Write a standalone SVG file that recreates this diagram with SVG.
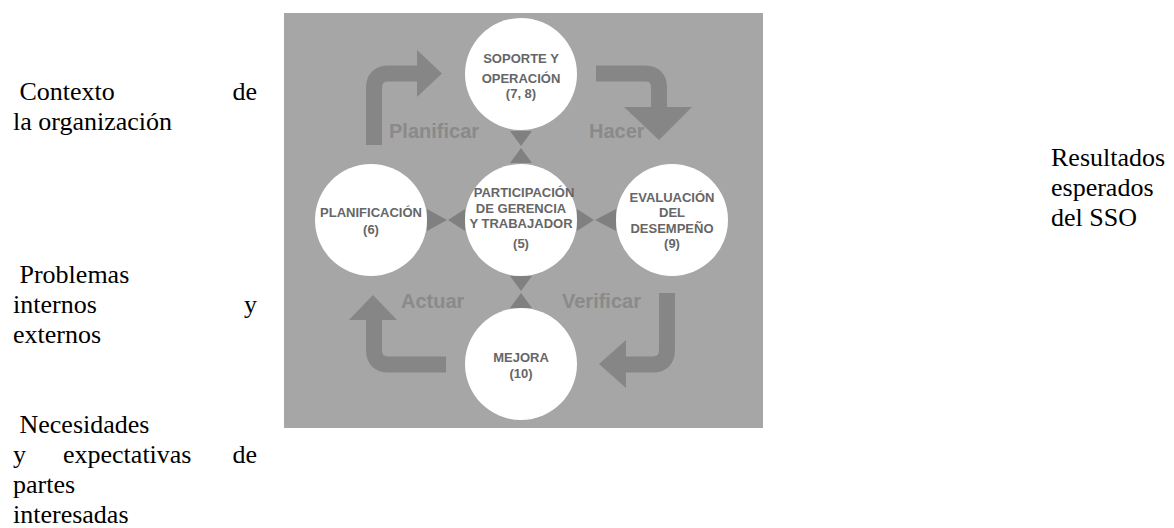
<svg xmlns="http://www.w3.org/2000/svg" width="1174" height="528" viewBox="0 0 1174 528">
<style>
.side{font-family:"Liberation Serif","Times New Roman",serif;font-size:26px;fill:#000}
.node circle{fill:#fff}
.node text{font-family:"Liberation Sans",Arial,sans-serif;font-size:13px;font-weight:bold;fill:#666;text-anchor:middle}
.lbl{font-family:"Liberation Sans",Arial,sans-serif;font-size:20px;font-weight:bold;fill:#8a8a8a}
.bar{fill:none;stroke:#868686;stroke-width:16}
.head{fill:#868686}
.tri{fill:#808080}
</style>
<rect x="0" y="0" width="1174" height="528" fill="#fff"/>
<g id="left-text">
<text class="side" x="13" y="100" xml:space="preserve"> Contexto</text>
<text class="side" x="257" y="100" text-anchor="end">de</text>
<text class="side" x="13" y="130">la organización</text>
<text class="side" x="13" y="283" xml:space="preserve"> Problemas</text>
<text class="side" x="13" y="313">internos</text>
<text class="side" x="257" y="313" text-anchor="end">y</text>
<text class="side" x="13" y="343">externos</text>
<text class="side" x="13" y="433" xml:space="preserve"> Necesidades</text>
<text class="side" x="13" y="463">y</text>
<text class="side" x="63" y="463">expectativas</text>
<text class="side" x="257" y="463" text-anchor="end">de</text>
<text class="side" x="13" y="493">partes</text>
<text class="side" x="13" y="523">interesadas</text>
</g>
<g id="right-text">
<text class="side" x="1051" y="166">Resultados</text>
<text class="side" x="1051" y="196">esperados</text>
<text class="side" x="1051" y="226">del SSO</text>
</g>
<rect id="panel" x="284" y="13" width="479" height="415" fill="#a6a6a6"/>
<g id="connectors">
<path class="bar" d="M374,145 V88 Q374,73.5 389,73.5 H420"/>
<polygon class="head" points="417,50 442,73.5 417,97"/>
<path class="bar" d="M596,73.5 H645 Q659,73.5 659,88 V110"/>
<polygon class="head" points="624,107 692,107 659,140"/>
<path class="bar" d="M667,293 V350 Q667,364.5 652,364.5 H623"/>
<polygon class="head" points="626,340 626,388 599,364"/>
<path class="bar" d="M446,364.5 H389 Q374,364.5 374,350 V317"/>
<polygon class="head" points="349,320 397,320 373,295"/>
<polygon class="tri" points="510,131 532,131 521,146"/>
<polygon class="tri" points="510,163 532,163 521,148"/>
<polygon class="tri" points="510,276 532,276 521,291"/>
<polygon class="tri" points="510,308 532,308 521,293"/>
<polygon class="tri" points="427,209 427,231 447,220"/>
<polygon class="tri" points="465,209 465,231 448,220"/>
<polygon class="tri" points="577,209 577,231 594,220"/>
<polygon class="tri" points="616,209 616,231 595,220"/>
</g>
<g id="labels">
<text class="lbl" x="389" y="138">Planificar</text>
<text class="lbl" x="589" y="138">Hacer</text>
<text class="lbl" x="401" y="308">Actuar</text>
<text class="lbl" x="562" y="308">Verificar</text>
</g>
<g id="node-soporte" class="node">
<circle cx="521" cy="74" r="56"/>
<text x="521" y="63">SOPORTE Y</text>
<text x="521" y="83">OPERACIÓN</text>
<text x="521" y="98">(7, 8)</text>
</g>
<g id="node-planificacion" class="node">
<circle cx="371" cy="220" r="56"/>
<text x="371" y="217">PLANIFICACIÓN</text>
<text x="371" y="234">(6)</text>
</g>
<g id="node-participacion" class="node">
<circle cx="521" cy="220" r="56"/>
<text x="524" y="197">PARTICIPACIÓN</text>
<text x="521" y="213">DE GERENCIA</text>
<text x="521" y="228">Y TRABAJADOR</text>
<text x="521" y="248">(5)</text>
</g>
<g id="node-evaluacion" class="node">
<circle cx="672" cy="220" r="56"/>
<text x="672" y="202">EVALUACIÓN</text>
<text x="672" y="217">DEL</text>
<text x="672" y="233">DESEMPEÑO</text>
<text x="672" y="248">(9)</text>
</g>
<g id="node-mejora" class="node">
<circle cx="521" cy="364" r="56"/>
<text x="521" y="362">MEJORA</text>
<text x="521" y="378">(10)</text>
</g>
</svg>
